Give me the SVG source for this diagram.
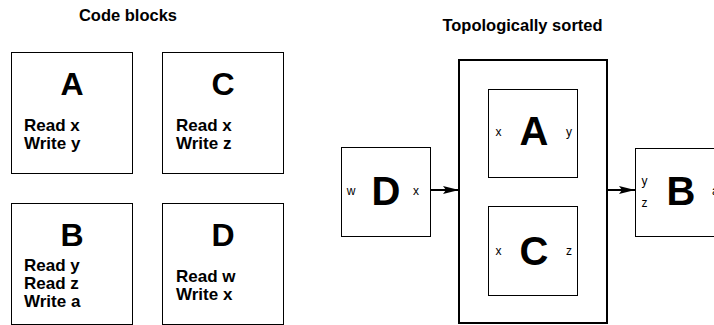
<svg xmlns="http://www.w3.org/2000/svg" width="714" height="325" viewBox="0 0 714 325">
<style>
.box{fill:#fff;stroke:#000;stroke-width:1}
.outer{fill:#fff;stroke:#000;stroke-width:2}
.title{font-family:"Liberation Sans",Arial,sans-serif;font-weight:bold;font-size:16.5px;text-anchor:middle;fill:#000}
.big{font-family:"Liberation Sans",Arial,sans-serif;font-weight:bold;font-size:32px;text-anchor:middle;fill:#000}
.huge{font-family:"Liberation Sans",Arial,sans-serif;font-weight:bold;font-size:40px;text-anchor:middle;fill:#000}
.code{font-family:"Liberation Sans",Arial,sans-serif;font-weight:bold;font-size:17px;fill:#000}
.port{font-family:"Liberation Sans",Arial,sans-serif;font-size:12px;text-anchor:middle;fill:#000}
.conn{stroke:#000;stroke-width:2;fill:none}
</style>
<defs>
<marker id="arr" viewBox="0 0 16 10" refX="16" refY="5" markerWidth="8" markerHeight="5" orient="auto" markerUnits="strokeWidth">
<path d="M0,1 L16,5 L0,9 L3,5 Z" fill="#000"/>
</marker>
</defs>
<rect width="714" height="325" fill="#fff"/>
<text class="title" x="128" y="21">Code blocks</text>
<text class="title" x="522.5" y="31">Topologically sorted</text>

<g id="blockA">
<rect class="box" x="11.5" y="52.5" width="121" height="121"/>
<text class="big" x="72" y="95">A</text>
<text class="code" x="24" y="131">Read x</text>
<text class="code" x="24" y="149">Write y</text>
</g>
<g id="blockC">
<rect class="box" x="162.5" y="52.5" width="121" height="121"/>
<text class="big" x="223" y="95">C</text>
<text class="code" x="176" y="131">Read x</text>
<text class="code" x="176" y="149">Write z</text>
</g>
<g id="blockB">
<rect class="box" x="11.5" y="203.5" width="121" height="121"/>
<text class="big" x="72" y="246">B</text>
<text class="code" x="24" y="271">Read y</text>
<text class="code" x="24" y="289">Read z</text>
<text class="code" x="24" y="307">Write a</text>
</g>
<g id="blockD">
<rect class="box" x="162.5" y="203.5" width="121" height="121"/>
<text class="big" x="223" y="246">D</text>
<text class="code" x="176" y="282">Read w</text>
<text class="code" x="176" y="300">Write x</text>
</g>

<g id="sortedGroup">
<rect class="outer" x="459" y="60" width="148" height="263"/>
</g>
<g id="nodeA">
<rect class="box" x="488.5" y="89.5" width="89" height="88"/>
<text class="port" x="498.5" y="136">x</text>
<text class="huge" x="534" y="145">A</text>
<text class="port" x="569" y="136">y</text>
</g>
<g id="nodeC">
<rect class="box" x="488.5" y="206.5" width="89" height="89"/>
<text class="port" x="498.5" y="255">x</text>
<text class="huge" x="534" y="264.5">C</text>
<text class="port" x="569" y="255">z</text>
</g>
<g id="nodeD">
<rect class="box" x="341.5" y="147.5" width="89" height="89"/>
<text class="port" x="351" y="195">w</text>
<text class="huge" x="386" y="205">D</text>
<text class="port" x="416" y="195">x</text>
</g>
<g id="nodeB">
<rect class="box" x="635.5" y="148.5" width="100" height="88"/>
<text class="port" x="644.5" y="185">y</text>
<text class="port" x="644.5" y="206.5">z</text>
<text class="huge" x="681" y="205">B</text>
<text class="port" x="712" y="195" style="text-anchor:start">a</text>
</g>

<g id="connectors">
<line class="conn" x1="431" y1="190" x2="459" y2="190" marker-end="url(#arr)"/>
<line class="conn" x1="608" y1="190" x2="635" y2="190" marker-end="url(#arr)"/>
</g>
</svg>
